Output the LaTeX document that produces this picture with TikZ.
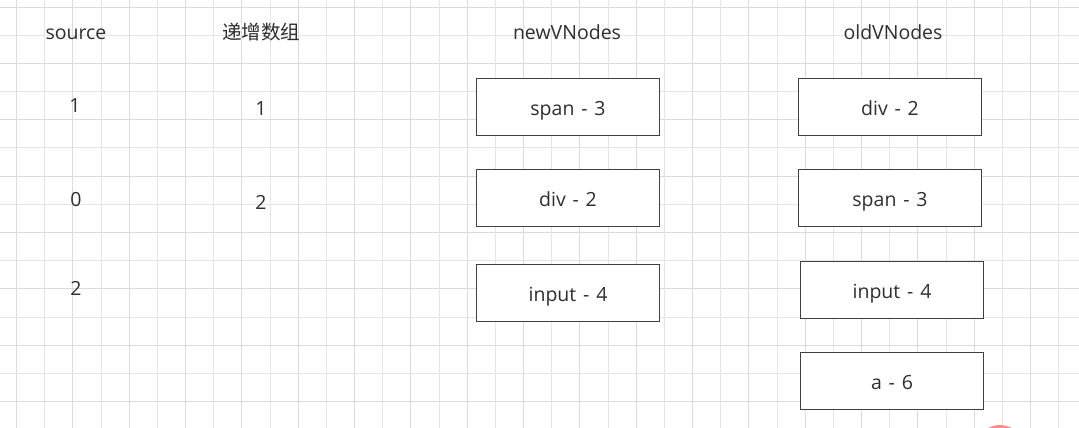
\documentclass[tikz,border=0pt]{standalone}
\usepackage{fontspec}
\setmainfont{Open Sans}
\newfontfamily\cjk{Noto Sans CJK SC}
\newcommand{\dsh}{\hspace{0.35em}-\hspace{0.35em}}
\begin{document}
\begin{tikzpicture}[x=1pt,y=-1pt,
  every node/.style={font=\fontsize{19.5}{21}\selectfont, text=black!82},
  lbl/.style={anchor=base, inner sep=0pt},
  vbox/.style={draw=black!75, line width=1.5pt, fill=white, minimum width=183pt, minimum height=57pt, inner sep=0pt, text height=16pt, text depth=0pt},
  minorline/.style={draw=black!10, line width=1pt},
  majorline/.style={draw=black!14, line width=1pt}]
\useasboundingbox (0,0) rectangle (1079,428);
\clip (0,0) rectangle (1079,428);
\fill[white] (0,0) rectangle (1079,428);
% grid
\foreach \k in {0,...,38} {
  \pgfmathsetmacro{\gx}{round(16+28.17*\k)+0.5}
  \pgfmathtruncatemacro{\odd}{mod(\k,2)}
  \ifnum\odd=1 \draw[minorline] (\gx,0) -- (\gx,428); \else \draw[majorline] (\gx,0) -- (\gx,428); \fi
}
\foreach \k in {0,...,15} {
  \pgfmathsetmacro{\gy}{round(6.5+28.2*\k)+0.5}
  \pgfmathtruncatemacro{\odd}{mod(\k,2)}
  \ifnum\odd=1 \draw[minorline] (0,\gy) -- (1079,\gy); \else \draw[majorline] (0,\gy) -- (1079,\gy); \fi
}
% headers
\node[lbl] (hsrc) at (76,40) {source};
\node[lbl] (hinc) at (261,40) {\cjk 递增数组};
\node[lbl] (hnew) at (567,40) {newVNodes};
\node[lbl] (hold) at (893,40) {oldVNodes};
% source column
\node[lbl] (s1) at (75,112) {1};
\node[lbl] (s2) at (76,206.5) {0};
\node[lbl] (s3) at (76,295) {2};
% increasing array
\node[lbl] (i1) at (261,115) {1};
\node[lbl] (i2) at (261,209.5) {2};
% new vnodes
\node[vbox] (n1) at (568,107) {span\dsh 3};
\node[vbox] (n2) at (568,198) {div\dsh 2};
\node[vbox] (n3) at (568,293) {input\dsh 4};
% old vnodes
\node[vbox] (o1) at (890,107) {div\dsh 2};
\node[vbox] (o2) at (890,198) {span\dsh 3};
\node[vbox] (o3) at (892,290) {input\dsh 4};
\node[vbox] (o4) at (892,381) {a\dsh 6};
% corner mark
\fill[red!45!white] (1000,450) circle (25);
\end{tikzpicture}
\end{document}
